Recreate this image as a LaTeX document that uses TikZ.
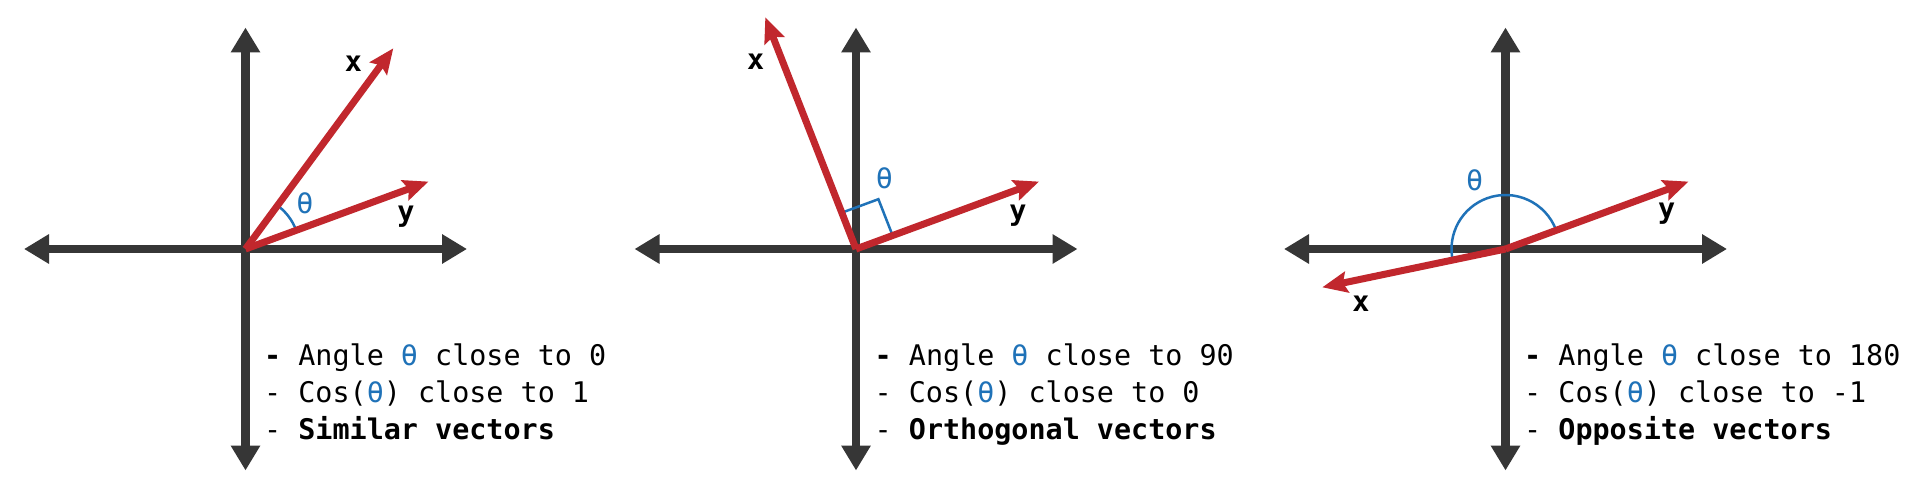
\documentclass[tikz,border=0pt]{standalone}
\usepackage{fontspec}
\setmonofont{DejaVu Sans Mono}
\usetikzlibrary{arrows.meta}
\definecolor{axisgray}{HTML}{363636}
\definecolor{vecred}{HTML}{C1272D}
\definecolor{angblue}{HTML}{1F72B8}
\newcommand{\thetab}{\textcolor{angblue}{θ}}

\begin{document}
\begin{tikzpicture}[x=1pt, y=1pt, every node/.style={font=\fontsize{28.4}{37}\ttfamily, inner sep=0pt},%
        axis/.style={draw=axisgray, line width=8.5pt, {Triangle[length=25pt,width=28pt]}-{Triangle[length=25pt,width=28pt]}},
        vec/.style={draw=vecred, line width=7pt, -{Stealth[length=25pt,width=21pt,inset=4pt]}},
        angarc/.style={draw=angblue, line width=2.5pt},
        vlabel/.style={font=\fontsize{28.4}{37}\ttfamily\bfseries},
        tlabel/.style={text=angblue},
        info/.style={anchor=base west}]
        \fill[white] (0,0) rectangle (1920,483);
        \coordinate (O1) at (245.5,234);
        \coordinate (O2) at (856,234);
        \coordinate (O3) at (1505.5,234);
        % axes
        \foreach \o in {O1,O2,O3} {
                \coordinate (\o-w) at ([xshift=-221.5pt]\o);
                \coordinate (\o-e) at ([xshift=221.5pt]\o);
                \coordinate (\o-n) at ([yshift=221.5pt]\o);
                \coordinate (\o-s) at ([yshift=-221.5pt]\o);
                \draw[axis] (\o-w) -- (\o-e);
                \draw[axis] (\o-n) -- (\o-s);
        }
        % similar
        \begin{scope}[shift={(O1)}]
                \coordinate (x1) at (147.8,200.7);
                \coordinate (y1) at (183,67.4);
                \draw[angarc] (20.2:54) arc[start angle=20.2, end angle=53.6, radius=54];
                \draw[vec] (O1) -- (x1);
                \draw[vec] (O1) -- (y1);
                \node[vlabel] (lx1) at (107.8,185.7) {x};
                \node[vlabel] (ly1) at (160.5,32.3) {y};
                \node[tlabel] (t1) at (59.5,45.7) {θ};
                \node[info] (a1) at (18.5,-116) {\textbf{-} Angle \thetab{} close to 0};
                \node[info] (c1) at (18.5,-153) {- Cos(\thetab) close to 1};
                \node[info] (s1) at (18.5,-190) {- \textbf{Similar vectors}};
        \end{scope}
        % orthogonal
        \begin{scope}[shift={(O2)}]
                \coordinate (x2) at (-90.7,231.7);
                \coordinate (y2) at (183,67.4);
                \draw[angarc] (-14.2,36.3) -- (22.4,49.8) -- (36.6,13.5);
                \draw[vec] (O2) -- (x2);
                \draw[vec] (O2) -- (y2);
                \node[vlabel] (lx2) at (-100.3,187.3) {x};
                \node[vlabel] (ly2) at (162,33) {y};
                \node[tlabel] (t2) at (28.5,70.7) {θ};
                \node[info] (a2) at (18.5,-116) {\textbf{-} Angle \thetab{} close to 90};
                \node[info] (c2) at (18.5,-153) {- Cos(\thetab) close to 0};
                \node[info] (s2) at (18.5,-190) {- \textbf{Orthogonal vectors}};
        \end{scope}
        % opposite
        \begin{scope}[shift={(O3)}]
                \coordinate (x3) at (-183.2,-38.3);
                \coordinate (y3) at (183,67.4);
                \draw[angarc] (20.2:54) arc[start angle=20.2, end angle=191.8, radius=54];
                \draw[vec] (O3) -- (x3);
                \draw[vec] (O3) -- (y3);
                \node[vlabel] (lx3) at (-144.5,-54.3) {x};
                \node[vlabel] (ly3) at (161.2,35.7) {y};
                \node[tlabel] (t3) at (-30.9,69) {θ};
                \node[info] (a3) at (18.5,-116) {\textbf{-} Angle \thetab{} close to 180};
                \node[info] (c3) at (18.5,-153) {- Cos(\thetab) close to -1};
                \node[info] (s3) at (18.5,-190) {- \textbf{Opposite vectors}};
        \end{scope}
\end{tikzpicture}
\end{document}
